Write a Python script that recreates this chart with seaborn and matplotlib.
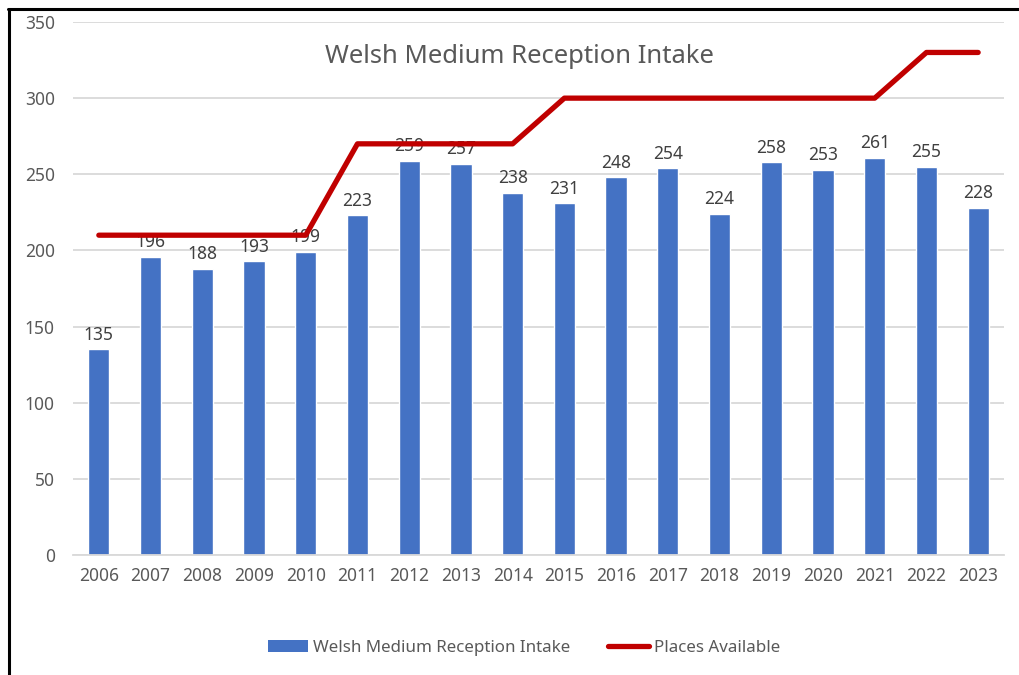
import matplotlib.pyplot as plt
import pandas as pd
import seaborn as sns
from matplotlib.lines import Line2D
from matplotlib.patches import Patch

years = [str(y) for y in range(2006, 2024)]
intake = [135, 196, 188, 193, 199, 223, 259, 257, 238, 231,
          248, 254, 224, 258, 253, 261, 255, 228]
places = [210, 210, 210, 210, 210, 270, 270, 270, 270, 300,
          300, 300, 300, 300, 300, 300, 330, 330]

BLUE = "#4472C4"
RED = "#C00000"
GREY = "#595959"

sns.set_style("white")
plt.rcParams["font.family"] = ["Noto Sans", "DejaVu Sans"]

df = pd.DataFrame({"year": years, "intake": intake, "places": places})

fig = plt.figure(figsize=(10.19, 6.75), dpi=100)
ax = fig.add_axes([0.0716, 0.1778, 0.9137, 0.7896])

sns.barplot(data=df, x="year", y="intake", color=BLUE, width=0.41,
            saturation=1, ax=ax, zorder=2)
sns.lineplot(data=df, x="year", y="places", color=RED, linewidth=3.8,
             ax=ax, zorder=3, solid_capstyle="round")

for i, v in enumerate(intake):
    ax.annotate(str(v), (i, v), xytext=(0, 4), textcoords="offset points",
                ha="center", va="bottom", fontsize=12.5, color="#404040",
                zorder=1)

ax.set_ylim(0, 350)
ax.set_xlim(-0.5, len(years) - 0.5)
ax.set_yticks(range(0, 351, 50))
ax.grid(axis="y", color="#d9d9d9", linewidth=1.3, zorder=0)
ax.set_axisbelow(True)
for side in ["top", "right", "left"]:
    ax.spines[side].set_visible(False)
ax.spines["bottom"].set_color("#d9d9d9")
ax.spines["bottom"].set_linewidth(1.3)
ax.tick_params(axis="both", length=0, labelsize=12.5, labelcolor=GREY)
ax.tick_params(axis="y", pad=13)
ax.tick_params(axis="x", pad=9)
ax.set_xlabel("")
ax.set_ylabel("")

ax.text(0.48, 0.935, "Welsh Medium Reception Intake", transform=ax.transAxes,
        ha="center", va="center", fontsize=18.5, color=GREY)

handles = [Patch(facecolor=BLUE, edgecolor="none"),
           Line2D([0], [0], color=RED, linewidth=3.8, solid_capstyle="round")]
fig.legend(handles, ["Welsh Medium Reception Intake", "Places Available"],
           loc="center", bbox_to_anchor=(0.514, 0.04), ncol=2, frameon=False,
           fontsize=12.2, labelcolor=GREY, handlelength=2.4, handletextpad=0.3,
           columnspacing=2.2)

# chart border (left and top edges visible in the original crop)
fig.add_artist(Line2D([0.0088, 0.0088], [0.0, 0.987], color="black",
                      linewidth=2.2, transform=fig.transFigure))
fig.add_artist(Line2D([0.0078, 1.0], [0.986, 0.986], color="black",
                      linewidth=2.2, transform=fig.transFigure))

fig.savefig("out.png", dpi=100)
